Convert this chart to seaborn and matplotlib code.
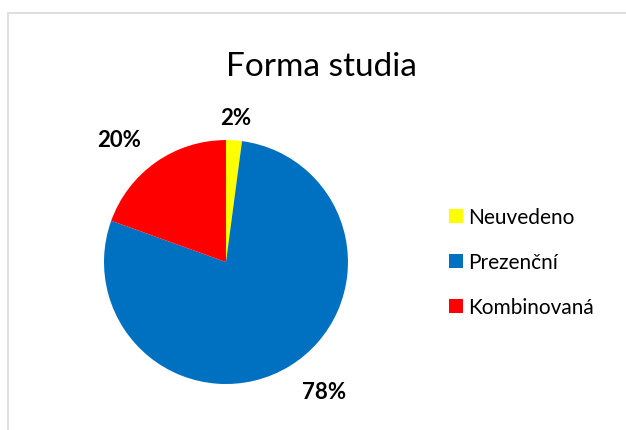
import seaborn as sns
import matplotlib.pyplot as plt
import numpy as np
from matplotlib.patches import Rectangle
from matplotlib.lines import Line2D

title = "Forma studia"
categories = ["Neuvedeno", "Prezenční", "Kombinovaná"]
shares = [2.1, 78.4, 19.5]
colors = ["#FFFF00", "#0070C0", "#FF0000"]

sns.set_theme(style="white")
plt.rcParams['font.family'] = ['Lato', 'DejaVu Sans']
plt.rcParams['text.color'] = 'black'

fig = plt.figure(figsize=(6.26, 4.31), dpi=100)

# light chart-area border like the Excel export
fig.patches.append(Rectangle((8 / 626, -0.1), 1.0, 1 - 14 / 431 + 0.1,
                             transform=fig.transFigure, fill=False,
                             edgecolor="#d9d9d9", linewidth=1.2))

ax = fig.add_axes([0.166, 0.1067, 0.39, 0.566])
wedges, _ = ax.pie(shares, colors=colors, startangle=90, counterclock=False,
                   wedgeprops=dict(linewidth=0))
ax.set_xlim(-1, 1)
ax.set_ylim(-1, 1)

# data labels outside the wedges (Excel "outside end" style)
dists = [1.19, 1.33, 1.33]
shifts = [0, 6, 6]
for w, v, d, s in zip(wedges, shares, dists, shifts):
    ang = np.deg2rad((w.theta1 + w.theta2) / 2 + s)
    ax.text(d * np.cos(ang), d * np.sin(ang), f"{round(v)}%",
            ha="center", va="center", fontsize=16, fontweight="bold")

fig.text(0.514, 0.845, title, ha="center", va="center", fontsize=24)

handles = [Line2D([], [], marker="s", linestyle="", markersize=10,
                  markerfacecolor=c, markeredgewidth=0) for c in colors]
fig.legend(handles, categories, loc="center left",
           bbox_to_anchor=(0.683, 0.39), frameon=False, fontsize=15,
           handletextpad=0.15, labelspacing=1.2, handlelength=0.9)

fig.savefig("out.png", dpi=100)
